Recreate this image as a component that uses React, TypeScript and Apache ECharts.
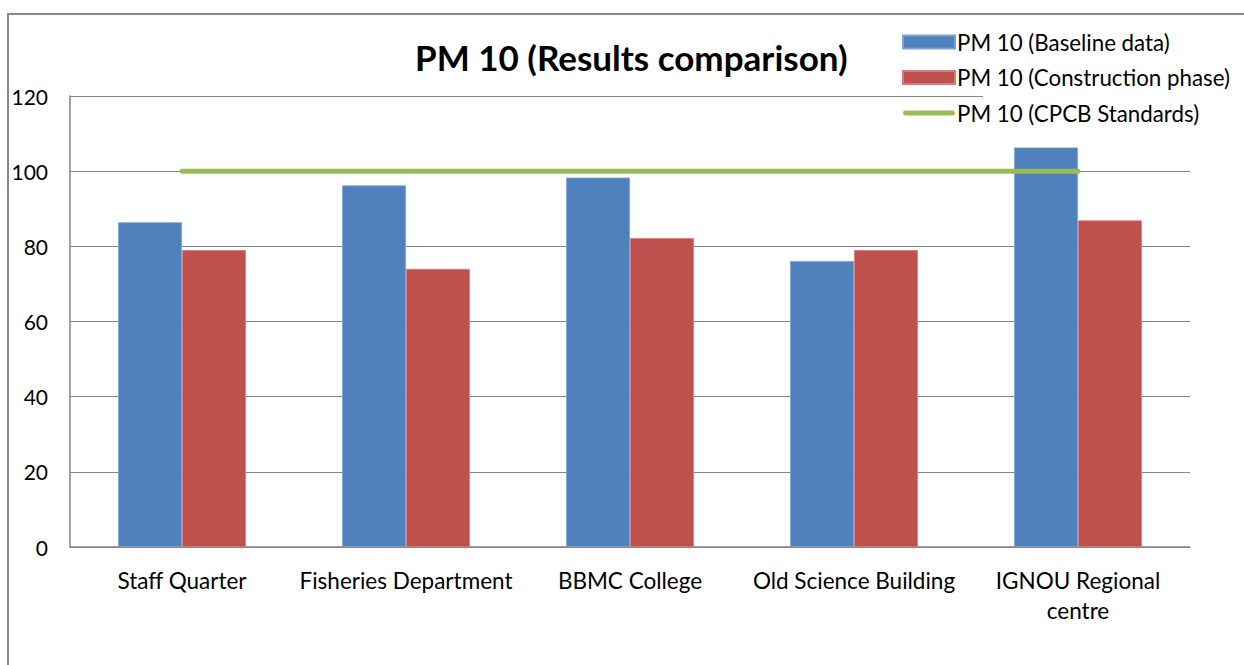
import React, { useEffect, useRef } from "react";
import * as echarts from "echarts";

const categories = [
  "Staff Quarter",
  "Fisheries Department",
  "BBMC College",
  "Old Science Building",
  "IGNOU Regional centre",
];
const baseline = [86.4, 96.2, 98.3, 76.1, 106.3];
const construction = [79.0, 74.0, 82.2, 79.0, 86.9];
const standards = [100, 100, 100, 100, 100];
const seriesNames = [
  "PM 10 (Baseline data)",
  "PM 10 (Construction phase)",
  "PM 10 (CPCB Standards)",
];
const titleText = "PM 10 (Results comparison)";

const FONT = "Lato, 'Open Sans', sans-serif";

export default function App() {
  const ref = useRef<HTMLDivElement>(null);
  useEffect(() => {
    const chart = echarts.init(ref.current!, null, { renderer: "svg" });
    chart.setOption({
      animation: false,
      backgroundColor: "#ffffff",
      title: {
        text: titleText,
        left: 415,
        top: 39,
        padding: 0,
        textStyle: { fontFamily: FONT, fontSize: 35, fontWeight: "bold", color: "#000" },
      },
      legend: {
        orient: "vertical",
        left: 902,
        top: 31,
        padding: 0,
        itemWidth: 52,
        itemHeight: 13,
        itemGap: 13.5,
        textStyle: { fontFamily: FONT, fontSize: 22.3, color: "#000", padding: [0, 0, 0, -3], lineHeight: 22 },
        data: [
          { name: seriesNames[0], icon: "rect" },
          { name: seriesNames[1], icon: "rect" },
          {
            name: seriesNames[2],
            icon: "path://M2,0 L50,0 A2,2 0 0 1 50,5 L2,5 A2,2 0 0 1 2,0 Z",
          },
        ],
      },
      grid: { left: 70, right: 54, top: 96, bottom: 118, containLabel: false },
      xAxis: {
        type: "category",
        data: categories,
        axisLine: { lineStyle: { color: "#868686", width: 1.5 } },
        axisTick: { show: false },
        axisLabel: {
          fontFamily: FONT,
          fontSize: 22.5,
          color: "#000",
          margin: 19,
          lineHeight: 29.5,
          interval: 0,
          formatter: (v: string) => {
            if (v.length > 20) {
              const i = v.lastIndexOf(" ");
              return v.slice(0, i) + "\n" + v.slice(i + 1);
            }
            return v;
          },
        },
      },
      yAxis: {
        type: "value",
        min: 0,
        max: 120,
        interval: 20,
        axisLine: { show: true, lineStyle: { color: "#868686", width: 1.5 } },
        axisTick: { show: false },
        axisLabel: { fontFamily: FONT, fontSize: 21, color: "#000", margin: 22 },
        splitLine: { lineStyle: { color: "#868686", width: 1.2 } },
      },
      graphic: [
        {
          type: "rect",
          shape: { x: 8, y: 14, width: 1260, height: 680 },
          style: { fill: "none", stroke: "#888888", lineWidth: 2 },
          silent: true,
          z: -10,
        },
        {
          type: "rect",
          shape: { x: 983, y: 93, width: 212, height: 6 },
          style: { fill: "#ffffff" },
          silent: true,
          z: 1,
        },
      ],
      series: [
        {
          name: seriesNames[0],
          type: "bar",
          data: baseline,
          barGap: "0%",
          barCategoryGap: "42.9%",
          itemStyle: { color: "#4F81BD", borderColor: "#7DA2D0", borderWidth: 0.8 },
          z: 2,
        },
        {
          name: seriesNames[1],
          type: "bar",
          data: construction,
          barGap: "0%",
          barCategoryGap: "42.9%",
          itemStyle: { color: "#C0504D", borderColor: "#D27F7C", borderWidth: 0.8 },
          z: 2,
        },
        {
          name: seriesNames[2],
          type: "line",
          data: standards,
          symbol: "none",
          lineStyle: { color: "#9BBB59", width: 5, cap: "round" },
          itemStyle: { color: "#9BBB59" },
          z: 3,
        },
      ],
    });
    return () => chart.dispose();
  }, []);
  return (
    <div
      ref={ref}
      style={{ position: "fixed", left: 0, top: 0, width: 1244, height: 665 }}
    />
  );
}
